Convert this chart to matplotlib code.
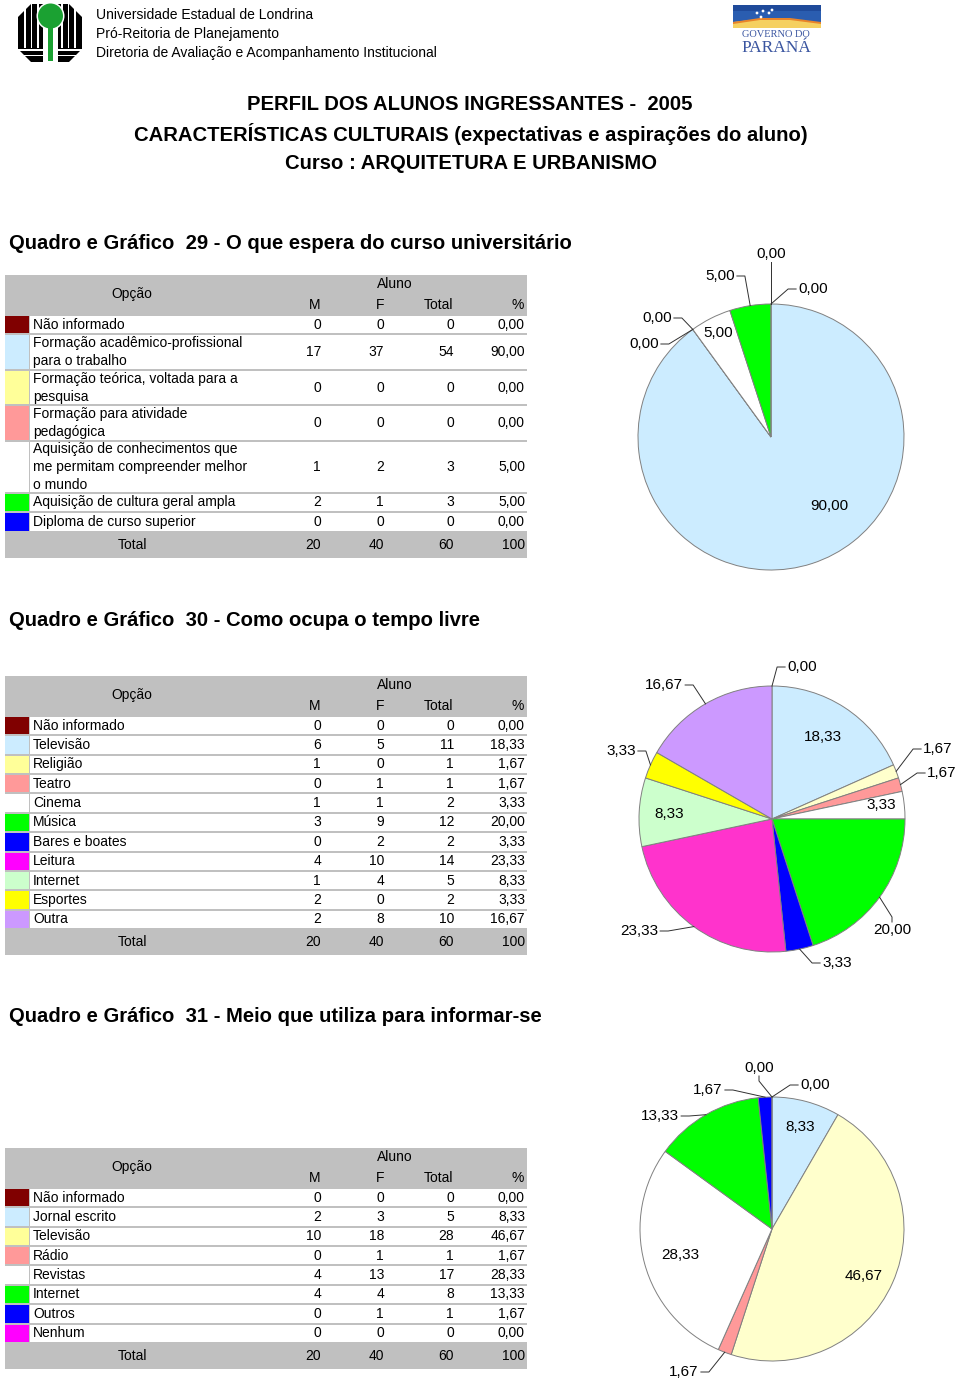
import matplotlib
matplotlib.use('Agg')
import matplotlib.pyplot as plt
from matplotlib.patches import Rectangle, Polygon, Circle
import numpy as np

W, H = 960, 1382
plt.rcParams['font.family'] = ['Liberation Sans', 'DejaVu Sans']

GREY = '#C0C0C0'
EDGE = '#808080'

# ---------------- data ----------------
q29_labels = ['Não informado',
              'Formação acadêmico-profissional\npara o trabalho',
              'Formação teórica, voltada para a\npesquisa',
              'Formação para atividade\npedagógica',
              'Aquisição de conhecimentos que\nme permitam compreender melhor\no mundo',
              'Aquisição de cultura geral ampla',
              'Diploma de curso superior']
q29_colors = ['#800000', '#CCECFF', '#FFFF99', '#FF9999', '#FFFFFF', '#00FF00', '#0000FF']
q29_m = [0, 17, 0, 0, 1, 2, 0]
q29_f = [0, 37, 0, 0, 2, 1, 0]
q29_pct = [0.00, 90.00, 0.00, 0.00, 5.00, 5.00, 0.00]

q30_labels = ['Não informado', 'Televisão', 'Religião', 'Teatro', 'Cinema', 'Música',
              'Bares e boates', 'Leitura', 'Internet', 'Esportes', 'Outra']
q30_colors = ['#800000', '#CCECFF', '#FFFF99', '#FF9999', '#FFFFFF', '#00FF00',
              '#0000FF', '#FF00FF', '#CCFFCC', '#FFFF00', '#CC99FF']
q30_m = [0, 6, 1, 0, 1, 3, 0, 4, 1, 2, 2]
q30_f = [0, 5, 0, 1, 1, 9, 2, 10, 4, 0, 8]
q30_pct = [0.00, 18.33, 1.67, 1.67, 3.33, 20.00, 3.33, 23.33, 8.33, 3.33, 16.67]

q31_labels = ['Não informado', 'Jornal escrito', 'Televisão', 'Rádio', 'Revistas',
              'Internet', 'Outros', 'Nenhum']
q31_colors = ['#800000', '#CCECFF', '#FFFF99', '#FF9999', '#FFFFFF', '#00FF00',
              '#0000FF', '#FF00FF']
q31_m = [0, 2, 10, 0, 4, 4, 0, 0]
q31_f = [0, 3, 18, 1, 13, 4, 1, 0]
q31_pct = [0.00, 8.33, 46.67, 1.67, 28.33, 13.33, 1.67, 0.00]

# pie slices use slightly different tints than the table swatches
PIE_TINT = {'#FFFF99': '#FFFFCC', '#FF00FF': '#FF33CC'}

# ---------------- layout ----------------
X0, X1, SW_X1, TXT_X = 5, 527, 29, 33
COL_R = [321, 384, 454, 525]
HEAD_X = [315, 380, 438, 518]
HEAD_H, ROW_H, LINE_H, FOOT_H = 40, 19.36, 16.2, 26

# label placement for each pie: (kind, dx, dy) relative to pie centre
pie29_lab = [('out', 0, -183), ('in', 58, 69), ('out', -114, -119), ('out', -127, -93),
             ('in', -53, -104), ('out', -51, -161), ('out', 42, -148)]
pie30_lab = [('out', 30, -152), ('in', 51, -82), ('out', 166, -70), ('out', 170, -46),
             ('in', 109, -14), ('out', 120, 111), ('out', 65, 144), ('out', -133, 112),
             ('in', -103, -5), ('out', -151, -68), ('out', -108, -134)]
pie31_lab = [('out', 43, -144), ('in', 28, -102), ('in', 92, 47), ('out', -88, 143),
             ('in', -92, 26), ('out', -112, -113), ('out', -64, -139), ('out', -13, -161)]


def fmt(v):
    return f'{v:.2f}'.replace('.', ',')


def draw_table(ax, top, labels, colors, m, f, pct):
    tot = [a + b for a, b in zip(m, f)]
    heights = [ROW_H + LINE_H * s.count('\n') for s in labels]
    bottom = top + HEAD_H + sum(heights) + FOOT_H
    ax.add_patch(Rectangle((X0, top), X1 - X0, bottom - top, fc=GREY, ec='none'))
    ax.text(132, top + 19, 'Opção', ha='center', va='center', fontsize=10)
    ax.text(395, top + 9, 'Aluno', ha='center', va='center', fontsize=10)
    for x, s in zip(HEAD_X, ['M', 'F', 'Total', '%']):
        ax.text(x, top + 30, s, ha='center', va='center', fontsize=10)
    y = top + HEAD_H
    for lab, col, a, b, t, p, h in zip(labels, colors, m, f, tot, pct, heights):
        ax.add_patch(Rectangle((SW_X1 + 1, y + 1), X1 - SW_X1 - 1, h - 2, fc='white', ec='none'))
        ax.add_patch(Rectangle((X0, y + 1), SW_X1 - X0, h - 2, fc=col, ec='none'))
        lines = lab.split('\n')
        mid = y + h / 2
        for i, ln in enumerate(lines):
            ax.text(TXT_X, mid + (i - (len(lines) - 1) / 2) * 18.3, ln,
                    ha='left', va='center', fontsize=10)
        for x, v in zip(COL_R, [a, b, t, fmt(p)]):
            ax.text(x, mid, str(v), ha='right', va='center', fontsize=10)
        y += h
    fmid = y + FOOT_H / 2
    ax.text(132, fmid, 'Total', ha='center', va='center', fontsize=10)
    for x, v in zip(COL_R, [sum(m), sum(f), sum(tot), round(sum(pct))]):
        ax.text(x, fmid, str(v), ha='right', va='center', fontsize=10)


def draw_pie(ax, cx, cy, r, pct, colors, lab):
    cols = [PIE_TINT.get(c, c) for c in colors]
    wedges, _ = ax.pie(pct, colors=cols, center=(cx, cy), radius=r, startangle=-90,
                       counterclock=True, frame=True,
                       wedgeprops=dict(edgecolor=EDGE, linewidth=0.7))
    for w, p, (kind, dx, dy) in zip(wedges, pct, lab):
        lx, ly = cx + dx, cy + dy
        s = fmt(p)
        ax.text(lx, ly, s, ha='center', va='center', fontsize=11, zorder=5)
        if kind != 'out':
            continue
        th = np.deg2rad((w.theta1 + w.theta2) / 2)
        ex, ey = cx + r * np.cos(th), cy + r * np.sin(th)
        hw = 0.5 * (sum(0.556 for c in s if c.isdigit()) + 0.278) * 15.3
        if abs(lx - ex) < hw:
            sg = 1 if ey > ly else -1
            ty = ly + sg * 8
            pts = [(lx, ty), (lx, ty + sg * 5), (ex, ey)]
        else:
            sg = 1 if ex > lx else -1
            sx = lx + sg * (hw + 2)
            pts = [(sx, ly), (sx + sg * 8, ly), (ex, ey)]
        xs, ys = zip(*pts)
        ax.plot(xs, ys, color='#303030', lw=0.7, zorder=5)


fig = plt.figure(figsize=(W / 100, H / 100), dpi=100)
ax = fig.add_axes([0, 0, 1, 1])

# ---- header logos ----
ax.add_patch(Polygon([(31, 4), (69, 4), (82, 17), (82, 49), (69, 62), (31, 62), (18, 49), (18, 17)],
                     closed=True, fc='black', ec='none'))
for x in [24, 30.5, 37, 61, 67.5, 74]:
    ax.add_patch(Rectangle((x, 4), 1.8, 44, fc='white', ec='none'))
for yy in [49, 54.5]:
    ax.add_patch(Rectangle((18, yy), 64, 1.6, fc='white', ec='none'))
ax.add_patch(Rectangle((43, 17), 15, 46, fc='white', ec='none'))
ax.add_patch(Circle((50.5, 16), 14, fc='white', ec='none'))
ax.add_patch(Circle((50.5, 16), 12.5, fc='#1BA132', ec='none'))
ax.add_patch(Rectangle((48, 20), 5, 41, fc='#1BA132', ec='none'))

ax.add_patch(Rectangle((733, 5), 88, 22, fc='#2A5DB0', ec='none'))
ax.add_patch(Rectangle((733, 5), 88, 6, fc='#1F4A9A', ec='none'))
ax.add_patch(Polygon([(733, 28), (733, 22), (760, 19), (790, 19), (821, 23), (821, 28)],
                     closed=True, fc='#F5D060', ec='none'))
ax.add_patch(Polygon([(733, 22), (760, 18), (790, 18), (821, 22), (821, 24), (790, 20), (760, 20), (733, 24)],
                     closed=True, fc='#E8842A', ec='none'))
for sx, sy in [(757, 13), (763, 11), (769, 13), (761, 17), (772, 10)]:
    ax.add_patch(Circle((sx, sy), 1.4, fc='white', ec='none'))
ax.text(776, 34, 'GOVERNO DO', ha='center', va='center', fontsize=7.5,
        family='Liberation Serif', color='#3A55A0')
ax.text(776, 47.5, 'PARANÁ', ha='center', va='center', fontsize=12.5,
        family='Liberation Serif', color='#3A55A0')

for yy, s in zip([15, 34, 53], ['Universidade Estadual de Londrina', 'Pró-Reitoria de Planejamento',
                                'Diretoria de Avaliação e Acompanhamento Institucional']):
    ax.text(96, yy, s, ha='left', va='center', fontsize=10)

# ---- titles ----
ax.text(470, 104, 'PERFIL DOS ALUNOS INGRESSANTES -  2005', ha='center', va='center',
        fontsize=14.6, fontweight='bold')
ax.text(471, 134, 'CARACTERÍSTICAS CULTURAIS (expectativas e aspirações do aluno)', ha='center',
        va='center', fontsize=14.6, fontweight='bold')
ax.text(471, 163, 'Curso : ARQUITETURA E URBANISMO', ha='center', va='center',
        fontsize=14.6, fontweight='bold')

ax.text(9, 243, 'Quadro e Gráfico  29 - O que espera do curso universitário', ha='left',
        va='center', fontsize=14.6, fontweight='bold')
ax.text(9, 620, 'Quadro e Gráfico  30 - Como ocupa o tempo livre', ha='left',
        va='center', fontsize=14.6, fontweight='bold')
ax.text(9, 1016, 'Quadro e Gráfico  31 - Meio que utiliza para informar-se', ha='left',
        va='center', fontsize=14.6, fontweight='bold')

# ---- tables ----
draw_table(ax, 275, q29_labels, q29_colors, q29_m, q29_f, q29_pct)
draw_table(ax, 676, q30_labels, q30_colors, q30_m, q30_f, q30_pct)
draw_table(ax, 1148, q31_labels, q31_colors, q31_m, q31_f, q31_pct)

# ---- pies ----
draw_pie(ax, 771, 437, 133, q29_pct, q29_colors, pie29_lab)
draw_pie(ax, 772, 819, 133, q30_pct, q30_colors, pie30_lab)
draw_pie(ax, 772, 1229, 132, q31_pct, q31_colors, pie31_lab)

ax.set_aspect('auto')
ax.set_xlim(0, W)
ax.set_ylim(H, 0)
ax.axis('off')

fig.savefig('out.png', dpi=100, facecolor='white')
